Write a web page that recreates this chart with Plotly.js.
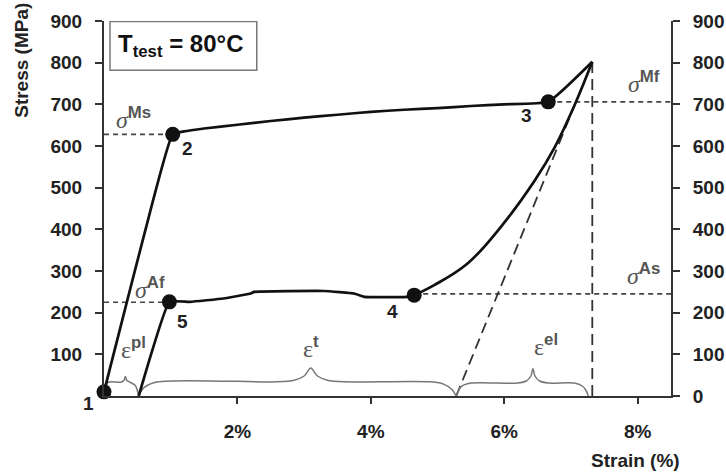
<!DOCTYPE html>
<html>
<head>
<meta charset="utf-8">
<script src="https://cdn.plot.ly/plotly-3.0.1.min.js"></script>
<style>html,body{margin:0;padding:0;background:#fff;}</style>
</head>
<body>
<div id="chart" style="width:726px;height:476px;"></div>
<script>
// ---- data (strain %, stress MPa) ----
const loadStrain = [0, 0.35, 0.62, 1.03, 1.2, 1.5, 2.0, 2.5, 3.0, 3.5, 4.0, 4.5, 5.0, 5.5, 6.0, 6.66, 7.32];
const loadStress = [10, 230, 398, 628, 635, 642, 651, 660, 668, 675, 682, 687, 691, 696, 700, 706, 802];
const unloadStrain = [7.32, 7.06, 6.76, 6.46, 5.95, 5.45, 4.95, 4.65];
const unloadStress = [802, 700, 598, 518, 406, 318, 266, 242];
const plateauStrain = [4.65, 4.55, 3.9, 3.75, 3.3, 2.25, 2.2, 1.79, 1.29, 0.98, 0.52];
const plateauStress = [242, 238, 238, 246, 252, 250, 246, 234, 226, 226, 0];
const pointLabels = ['1', '2', '3', '4', '5'];
const pointStrain = [0, 1.03, 6.66, 4.65, 0.98];
const pointStress = [10, 628, 706, 242, 226];
const elasticStrain = [5.28, 7.32];
const elasticStress = [0, 802];
const peakStrain = [7.32, 7.32];
const peakStress = [0, 802];
const sigmaNames = ['Ms', 'Mf', 'As', 'Af'];
const sigmaStress = [628, 706, 245, 225];
const sigmaFrom = [0, 6.66, 4.65, 0];
const sigmaTo = [1.03, 8.5, 8.5, 0.98];
const bracePlX = [0.0, 0.06, 0.25, 0.3, 0.32, 0.34, 0.39, 0.47, 0.52];
const bracePlY = [12, 33, 33, 38, 47, 38, 33, 25, 0];
const braceTX = [0.52, 0.6, 0.81, 2.6, 2.85, 3.0, 3.1, 3.2, 3.35, 3.6, 4.9, 5.1, 5.22, 5.28];
const braceTY = [0, 20, 34, 34, 38, 48, 67, 48, 38, 34, 34, 28, 15, 0];
const braceElX = [5.28, 5.35, 5.5, 6.2, 6.33, 6.4, 6.43, 6.46, 6.53, 6.66, 7.05, 7.17, 7.23, 7.26];
const braceElY = [0, 22, 31, 31, 36, 48, 66, 48, 36, 31, 31, 24, 12, 0];
const strainNames = ['pl', 't', 'el'];
const strainLabelX = [0.44, 3.1, 6.63];
const strainLabelY = [115, 118, 122];
const xTickVals = [2, 4, 6, 8];
const xTickText = ['2%', '4%', '6%', '8%'];
const yLeftTicks = [100, 200, 300, 400, 500, 600, 700, 800, 900];
const yRightTicks = [0, 100, 200, 300, 400, 500, 600, 700, 800, 900];

const SANS = 'Liberation Sans, Arial, sans-serif';
const SERIF = 'Liberation Serif, Times New Roman, serif';
const tickFont = {family: SANS, size: 19, color: '#222', weight: 'bold'};

const traces = [];
for (let i = 0; i < sigmaNames.length; i++) {
  traces.push({x: [sigmaFrom[i], sigmaTo[i]], y: [sigmaStress[i], sigmaStress[i]], mode: 'lines',
    line: {color: '#444', width: 1.6, dash: '5px,4px'}, hoverinfo: 'skip', showlegend: false});
}
traces.push({x: elasticStrain, y: elasticStress, mode: 'lines', line: {color: '#333', width: 1.8, dash: '11px,6px'}, showlegend: false});
traces.push({x: peakStrain, y: peakStress, mode: 'lines', line: {color: '#333', width: 1.8, dash: '11px,6px'}, showlegend: false});
[[bracePlX, bracePlY], [braceTX, braceTY], [braceElX, braceElY]].forEach(b => {
  traces.push({x: b[0], y: b[1], mode: 'lines', line: {color: '#777', width: 1.5, shape: 'spline', smoothing: 0.8}, showlegend: false, cliponaxis: false});
});
traces.push({x: loadStrain, y: loadStress, mode: 'lines', line: {color: '#111', width: 2.7, shape: 'spline', smoothing: 0.4}, showlegend: false});
traces.push({x: unloadStrain, y: unloadStress, mode: 'lines', line: {color: '#111', width: 2.7, shape: 'spline', smoothing: 1.1}, showlegend: false});
traces.push({x: plateauStrain, y: plateauStress, mode: 'lines', line: {color: '#111', width: 2.7, shape: 'spline', smoothing: 0.3}, showlegend: false});
traces.push({x: pointStrain, y: pointStress, mode: 'markers', marker: {color: '#111', size: 15}, cliponaxis: false, showlegend: false});
traces.push({x: [0], y: [0], yaxis: 'y2', mode: 'markers', marker: {opacity: 0}, showlegend: false, hoverinfo: 'skip'});

const annotations = [];
const ptOffsets = [[-16, 12], [15, 14], [-22, 14], [-22, 16], [13, 20]];
for (let i = 0; i < pointLabels.length; i++) {
  annotations.push({x: pointStrain[i], y: pointStress[i], xref: 'x', yref: 'y', text: pointLabels[i], showarrow: false,
    xshift: ptOffsets[i][0], yshift: -ptOffsets[i][1], font: {family: SANS, size: 19, color: '#222', weight: 'bold'}});
}
const sigmaLabelX = [0.44, 8.09, 8.09, 0.69];
const sigmaLabelY = [667, 754, 293, 259];
for (let i = 0; i < sigmaNames.length; i++) {
  annotations.push({x: sigmaLabelX[i], y: sigmaLabelY[i], xref: 'x', yref: 'y', showarrow: false,
    text: '<i>σ</i><sup><span style="font-family:Liberation Sans;font-weight:bold">' + sigmaNames[i] + '</span></sup>',
    font: {family: SERIF, size: 24, color: '#555'}});
}
for (let i = 0; i < strainNames.length; i++) {
  annotations.push({x: strainLabelX[i], y: strainLabelY[i], xref: 'x', yref: 'y', showarrow: false,
    text: 'ε<sup><span style="font-family:Liberation Sans;font-weight:bold">' + strainNames[i] + '</span></sup>',
    font: {family: SERIF, size: 24, color: '#555'}});
}
annotations.push({x: 1.15, y: 842, xref: 'x', yref: 'y', showarrow: false, text: 'T<sub>test</sub> = 80°C',
  font: {family: SANS, size: 24, color: '#111', weight: 'bold'}});
annotations.push({x: -0.145, y: 0.896, xref: 'paper', yref: 'paper', xanchor: 'center', yanchor: 'middle', showarrow: false,
  text: 'Stress (MPa)', textangle: -90, font: {family: SANS, size: 19, color: '#222', weight: 'bold'}});
annotations.push({x: 0.937, y: -0.173, xref: 'paper', yref: 'paper', xanchor: 'center', yanchor: 'middle', showarrow: false,
  text: 'Strain (%)', font: {family: SANS, size: 19, color: '#222', weight: 'bold'}});

const layout = {
  width: 726, height: 476, autosize: false,
  margin: {l: 104, r: 55, t: 21, b: 80},
  paper_bgcolor: '#fff', plot_bgcolor: '#fff',
  showlegend: false,
  xaxis: {range: [0, 8.5], showgrid: false, zeroline: false, showline: true, linecolor: '#333', linewidth: 2,
    ticks: 'outside', ticklen: 6, tickwidth: 2, tickcolor: '#333', tickvals: xTickVals, ticktext: xTickText,
    tickfont: tickFont, ticklabelstandoff: 11, fixedrange: true},
  yaxis: {range: [0, 900], showgrid: false, zeroline: false, showline: true, linecolor: '#333', linewidth: 2,
    ticks: 'outside', ticklen: 7, tickwidth: 2, tickcolor: '#333', tickvals: yLeftTicks, ticktext: yLeftTicks.map(String),
    tickfont: tickFont, ticklabelstandoff: 9, fixedrange: true},
  yaxis2: {range: [0, 900], overlaying: 'y', side: 'right', showgrid: false, zeroline: false, showline: true, linecolor: '#333', linewidth: 2,
    ticks: 'outside', ticklen: 7, tickwidth: 2, tickcolor: '#333', tickvals: yRightTicks, ticktext: yRightTicks.map(String),
    tickfont: tickFont, ticklabelstandoff: 9, fixedrange: true},
  shapes: [{type: 'rect', xref: 'x', yref: 'y', x0: 0.09, x1: 2.29, y0: 782, y1: 899, line: {color: '#777', width: 1.5}}],
  annotations: annotations
};
Plotly.newPlot('chart', traces, layout, {displayModeBar: false, staticPlot: true});
</script>
</body>
</html>
